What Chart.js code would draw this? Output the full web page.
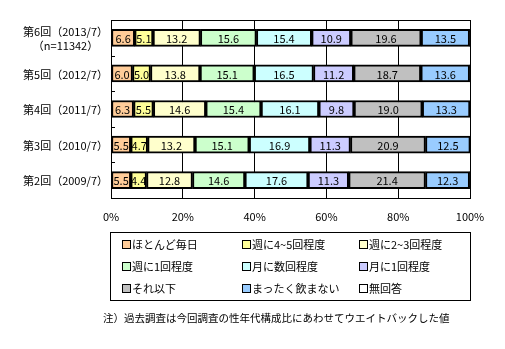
<!DOCTYPE html>
<html>
<head>
<meta charset="utf-8">
<script src="https://cdn.jsdelivr.net/npm/chart.js@4/dist/chart.umd.min.js"></script>
<style>
  html, body { margin: 0; padding: 0; background: #fff; }
  #wrap { position: relative; width: 505px; height: 349px; font-family: "Noto Sans CJK JP", sans-serif; color: #000; }
  #chart { position: absolute; left: 0; top: 0; }
  #legend { position: absolute; left: 110px; top: 232px; width: 359px; height: 67px; border: 1px solid #000; }
  .item { position: absolute; font-size: 11px; line-height: 14px; white-space: nowrap; }
  .item i { display: inline-block; width: 7px; height: 7px; border: 1px solid #000; margin-right: 1px; vertical-align: 0px; }
  #note { position: absolute; left: 103px; top: 311px; font-size: 10.5px; line-height: 14px; white-space: nowrap; }
</style>
</head>
<body>
<div id="wrap">
  <canvas id="chart" width="505" height="349"></canvas>
  <div id="legend"></div>
  <div id="note">注）過去調査は今回調査の性年代構成比にあわせてウエイトバックした値</div>
</div>
<script>
const rounds = [['第6回（2013/7）', '（n=11342）'], '第5回（2012/7）', '第4回（2011/7）', '第3回（2010/7）', '第2回（2009/7）'];
const answers = ['ほとんど毎日', '週に4~5回程度', '週に2~3回程度', '週に1回程度', '月に数回程度', '月に1回程度', 'それ以下', 'まったく飲まない', '無回答'];
const colors = ['#FFCC99', '#FFFF99', '#FFFFCC', '#CCFFCC', '#CCFFFF', '#CCCCFF', '#C0C0C0', '#99CCFF', '#FFFFFF'];

const almostDaily = [6.6, 6.0, 6.3, 5.5, 5.5];
const week4to5 = [5.1, 5.0, 5.5, 4.7, 4.4];
const week2to3 = [13.2, 13.8, 14.6, 13.2, 12.8];
const week1 = [15.6, 15.1, 15.4, 15.1, 14.6];
const monthFew = [15.4, 16.5, 16.1, 16.9, 17.6];
const month1 = [10.9, 11.2, 9.8, 11.3, 11.3];
const less = [19.6, 18.7, 19.0, 20.9, 21.4];
const never = [13.5, 13.6, 13.3, 12.5, 12.3];
const noAnswer = [0.1, 0.1, 0.0, 0.0, 0.1];

const xTicks = [0, 20, 40, 60, 80, 100];

const series = [almostDaily, week4to5, week2to3, week1, monthFew, month1, less, never, noAnswer];

const FONT = '"Noto Sans CJK JP", sans-serif';

const valueLabels = {
  id: 'valueLabels',
  afterDatasetsDraw(chart) {
    const ctx = chart.ctx;
    ctx.save();
    ctx.font = '11px ' + FONT;
    ctx.fillStyle = '#000';
    ctx.textAlign = 'center';
    ctx.textBaseline = 'middle';
    chart.data.datasets.forEach((ds, di) => {
      if (di === chart.data.datasets.length - 1) return;
      chart.getDatasetMeta(di).data.forEach((el, i) => {
        ctx.fillText(ds.data[i].toFixed(1), (el.x + el.base) / 2, el.y + 1);
      });
    });
    ctx.restore();
  }
};

// category labels, centred as a block and right-aligned to the axis
const roundLabels = {
  id: 'roundLabels',
  afterDraw(chart) {
    const { ctx, chartArea: a, scales: { y } } = chart;
    ctx.save();
    ctx.font = '11px ' + FONT;
    ctx.fillStyle = '#000';
    ctx.textAlign = 'center';
    ctx.textBaseline = 'middle';
    const lines = rounds.map(r => [].concat(r));
    const widest = Math.max(...lines.flat().map(t => ctx.measureText(t).width));
    const cx = a.left - 3 - widest / 2;
    lines.forEach((ls, i) => {
      const py = y.getPixelForValue(i);
      ls.forEach((t, j) => {
        ctx.fillText(t, cx, py + 1 + (j - (ls.length - 1) / 2) * 14);
      });
    });
    ctx.restore();
  }
};

const frame = {
  id: 'frame',
  afterDraw(chart) {
    const { ctx, chartArea: a, scales: { y } } = chart;
    ctx.save();
    ctx.strokeStyle = '#000';
    ctx.lineWidth = 1;
    ctx.strokeRect(Math.round(a.left) + 0.5, Math.round(a.top) + 0.5, Math.round(a.right - a.left), Math.round(a.bottom - a.top));
    ctx.beginPath();
    for (let i = 1; i < rounds.length; i++) {
      const py = Math.round((y.getPixelForValue(i - 1) + y.getPixelForValue(i)) / 2) + 0.5;
      ctx.moveTo(a.left, py);
      ctx.lineTo(a.left + 4, py);
    }
    ctx.stroke();
    ctx.restore();
  }
};

new Chart(document.getElementById('chart'), {
  type: 'bar',
  data: {
    labels: rounds,
    datasets: series.map((d, i) => ({
      label: answers[i],
      data: d,
      backgroundColor: colors[i],
      borderColor: '#000',
      borderWidth: 2,
      borderSkipped: false,
      barThickness: 17
    }))
  },
  options: {
    indexAxis: 'y',
    responsive: false,
    animation: false,
    layout: { padding: { left: 111, right: 35, top: 20, bottom: 121 } },
    plugins: { legend: { display: false }, tooltip: { enabled: false } },
    scales: {
      x: {
        stacked: true,
        min: 0,
        max: 100,
        afterBuildTicks: s => { s.ticks = xTicks.map(v => ({ value: v })); },
        afterFit: s => { s.height = 30; },
        grid: { color: '#000', lineWidth: 1, drawTicks: false },
        border: { display: false },
        ticks: { padding: 12, color: '#000', font: { family: FONT, size: 11 }, callback: v => v + '%' }
      },
      y: {
        stacked: true,
        afterFit: s => { s.width = 0; },
        grid: { display: false },
        border: { display: false },
        ticks: { display: false }
      }
    }
  },
  plugins: [valueLabels, roundLabels, frame]
});

const legend = document.getElementById('legend');
const colX = [11, 131, 248];
const rowY = [4, 26, 48];
answers.forEach((name, i) => {
  const div = document.createElement('div');
  div.className = 'item';
  div.style.left = colX[i % 3] + 'px';
  div.style.top = rowY[Math.floor(i / 3)] + 'px';
  const box = document.createElement('i');
  box.style.background = colors[i];
  div.appendChild(box);
  div.appendChild(document.createTextNode(name));
  legend.appendChild(div);
});
</script>
</body>
</html>
